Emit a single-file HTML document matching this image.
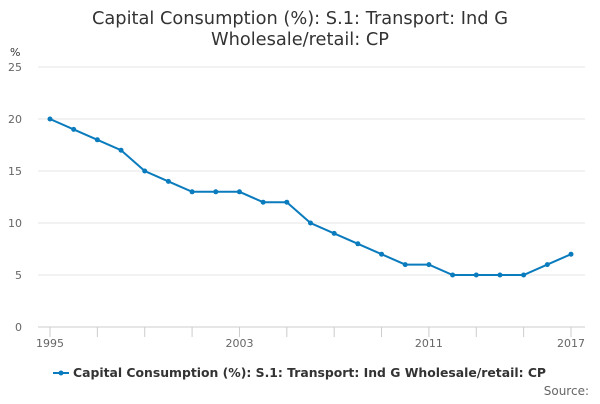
<!DOCTYPE html>
<html><head><meta charset="utf-8"><style>
body{margin:0;background:#fff;font-family:"DejaVu Sans","Liberation Sans",sans-serif}
</style></head><body>
<svg width="600" height="400" xmlns="http://www.w3.org/2000/svg" id="c">
<text x="300" y="24" text-anchor="middle" font-size="17.8" fill="#333">Capital Consumption (%): S.1: Transport: Ind G</text>
<text x="300" y="45" text-anchor="middle" font-size="17.8" fill="#333">Wholesale/retail: CP</text>
<text x="10" y="56" font-size="11" fill="#333">%</text>
<g id="grid"></g><g id="series"></g>
<g>
<line x1="53" y1="373" x2="69" y2="373" stroke="#0a7bbd" stroke-width="2"/>
<circle cx="61" cy="373" r="2.5" fill="#0a7bbd"/>
<text x="73" y="377" font-size="12.4" font-weight="bold" fill="#333">Capital Consumption (%): S.1: Transport: Ind G Wholesale/retail: CP</text>
</g>
<text x="589" y="395" text-anchor="end" font-size="12" fill="#666">Source:</text>
</svg>
<script>
const years=[1995,1996,1997,1998,1999,2000,2001,2002,2003,2004,2005,2006,2007,2008,2009,2010,2011,2012,2013,2014,2015,2016,2017];
const values=[20,19,18,17,15,14,13,13,13,12,12,10,9,8,7,6,6,5,5,5,5,6,7];
const yTicks=[0,5,10,15,20,25];
const xLabels=[1995,2003,2011,2017];
const ns="http://www.w3.org/2000/svg";
const x=v=>50+(v-1995)*(571-50)/22;
const y=v=>327-v*10.4;
function mk(t,a,p){const e=document.createElementNS(ns,t);for(const k in a)e.setAttribute(k,a[k]);p.appendChild(e);return e;}
const g=document.getElementById('grid');
yTicks.forEach(t=>{
const l=mk('line',{x1:38,x2:585,y1:y(t),y2:y(t),stroke:t===0?'#ccc':'#e6e6e6'},g);


const tx=mk('text',{x:22,y:y(t)+4,'text-anchor':'end','font-size':11,fill:'#666'},g);tx.textContent=t;


});
years.forEach(yr=>{if((yr-1995)%2===0||yr===2017){const l=mk('line',{x1:x(yr),x2:x(yr),y1:327,y2:337,stroke:'#ccc'},g);

}});
xLabels.forEach(yr=>{const tx=mk('text',{x:x(yr),y:347,'text-anchor':'middle','font-size':11,fill:'#666'},g);tx.textContent=yr;

});
const s=document.getElementById('series');
const pl=mk('polyline',{points:years.map((yr,i)=>x(yr)+','+y(values[i])).join(' '),fill:'none',stroke:'#0a7bbd','stroke-width':2},s);


years.forEach((yr,i)=>{const c=mk('circle',{cx:x(yr),cy:y(values[i]),r:2.5,fill:'#0a7bbd'},s);

});
</script>
</body></html>
